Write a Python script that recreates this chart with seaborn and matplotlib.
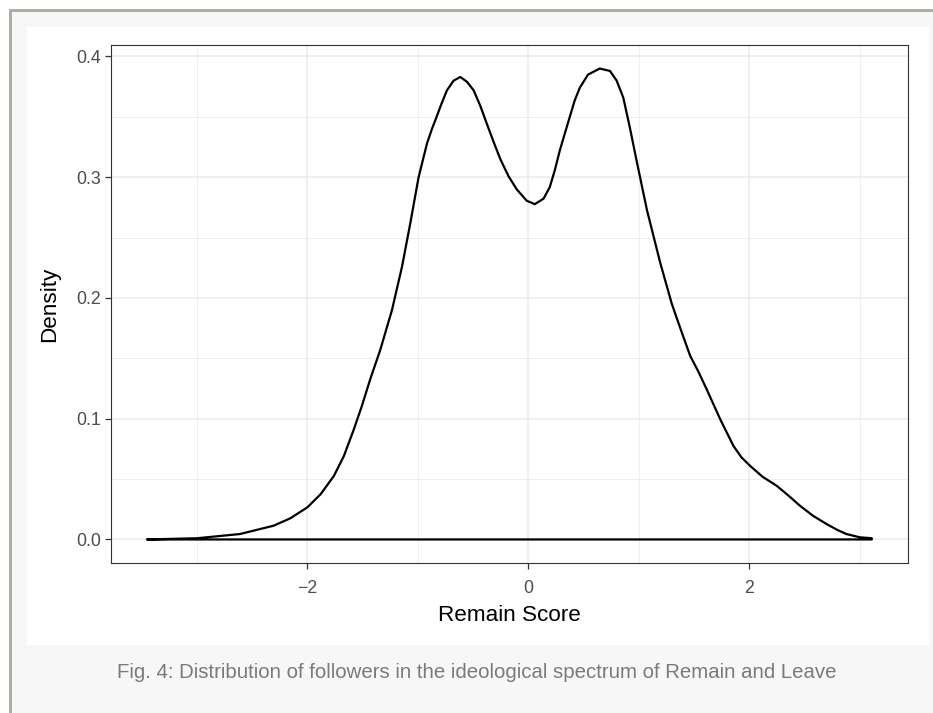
import matplotlib
matplotlib.use("Agg")
import matplotlib.pyplot as plt
import seaborn as sns
import pandas as pd
from matplotlib.patches import Rectangle
from matplotlib.ticker import MultipleLocator

# ---- data ----
remain_score = [-3.45, -3.0, -2.61, -2.305, -2.155, -2.0, -1.88, -1.76, -1.67, -1.58,
                -1.505, -1.43, -1.34, -1.234, -1.143, -1.068, -0.993, -0.917, -0.872,
                -0.826, -0.781, -0.736, -0.676, -0.615, -0.555, -0.495, -0.434,
                -0.374, -0.313, -0.253, -0.18, -0.105, -0.014, 0.059, 0.139, 0.195,
                0.24, 0.285, 0.33, 0.376, 0.42, 0.466, 0.541, 0.647, 0.74, 0.80,
                0.86, 0.92, 0.98, 1.074, 1.195, 1.30, 1.38, 1.466, 1.54, 1.617,
                1.738, 1.858, 1.93, 2.009, 2.12, 2.25, 2.36, 2.46, 2.58, 2.70, 2.80,
                2.88, 3.0, 3.11]
density = [0.0, 0.001, 0.0045, 0.0114, 0.0175, 0.0266, 0.0375, 0.0526, 0.069, 0.091,
           0.111, 0.133, 0.157, 0.190, 0.226, 0.262, 0.300, 0.328, 0.340,
           0.351, 0.362, 0.372, 0.380, 0.383, 0.379, 0.372, 0.359,
           0.344, 0.329, 0.315, 0.301, 0.290, 0.2805, 0.2777, 0.2823, 0.2919,
           0.3057, 0.322, 0.336, 0.350, 0.3635, 0.374, 0.385, 0.390, 0.388, 0.380,
           0.366, 0.341, 0.314, 0.273, 0.229, 0.195, 0.174, 0.152, 0.139, 0.124,
           0.0995, 0.0774, 0.068, 0.0609, 0.052, 0.0444, 0.036, 0.0279, 0.0195,
           0.0128, 0.0078, 0.0045, 0.0018, 0.001]
x_ticks = [-2, 0, 2]
y_ticks = [0.0, 0.1, 0.2, 0.3, 0.4]
x_label = "Remain Score"
y_label = "Density"
caption = "Fig. 4: Distribution of followers in the ideological spectrum of Remain and Leave"

# closed outline like ggplot geom_density (curve + baseline)
path_x = remain_score + [remain_score[-1], remain_score[0]]
path_y = density + [0.0, 0.0]
df = pd.DataFrame({"x": path_x, "y": path_y})

sns.set_theme(style="white")
plt.rcParams["font.family"] = ["Liberation Sans", "DejaVu Sans"]

W, H = 933, 713
fig = plt.figure(figsize=(W / 100, H / 100), dpi=100)
fig.patch.set_facecolor("white")

def px_rect(x0, y0, x1, y1, color):
    fig.patches.append(Rectangle((x0 / W, 1 - y1 / H), (x1 - x0) / W, (y1 - y0) / H,
                                 transform=fig.transFigure, facecolor=color,
                                 edgecolor="none", zorder=-10))

px_rect(9, 9, W, H, "#b5aba1")      # frame
px_rect(12, 12, W, H, "#f7f7f7")    # light grey card
px_rect(27, 27, 929, 645, "white")  # plot image

ax = fig.add_axes([111 / W, 1 - 563 / H, (908 - 111) / W, (563 - 45) / H])
ax.set_facecolor("white")

sns.lineplot(data=df, x="x", y="y", sort=False, estimator=None, color="black",
             linewidth=1.6, ax=ax, zorder=3)
ax.lines[-1].set_solid_joinstyle("round")

xmin, xmax = min(remain_score), max(remain_score)
ymin, ymax = 0.0, max(density)
ex = (xmax - xmin) * 0.05
ey = (ymax - ymin) * 0.05
ax.set_xlim(xmin - ex, xmax + ex)
ax.set_ylim(ymin - ey, ymax + ey)

ax.set_xticks(x_ticks)
ax.set_yticks(y_ticks)
ax.set_xticklabels([("\u2212" if t < 0 else "") + str(abs(t)) for t in x_ticks])
ax.set_yticklabels([f"{t:.1f}" for t in y_ticks])
ax.xaxis.set_minor_locator(MultipleLocator(1))
ax.yaxis.set_minor_locator(MultipleLocator(0.05))

ax.grid(which="major", color="#ebebeb", linewidth=1.1, zorder=0)
ax.grid(which="minor", color="#ebebeb", linewidth=0.55, zorder=0)
ax.set_axisbelow(True)

for s in ax.spines.values():
    s.set_visible(True)
    s.set_color("#333333")
    s.set_linewidth(0.8)

ax.tick_params(which="major", direction="out", length=4, width=0.9, color="#333333",
               labelsize=12.8, labelcolor="#4d4d4d", pad=3,
               bottom=True, left=True)
ax.tick_params(axis="x", which="major", pad=8)
ax.tick_params(which="minor", length=0, bottom=False, left=False)

ax.set_xlabel(x_label, fontsize=16.2, color="black", labelpad=6)
ax.set_ylabel(y_label, fontsize=16.2, color="black", labelpad=12)

fig.text(477 / W, 1 - 673 / H, caption, ha="center", va="center",
         fontsize=14.7, color="#7a7a7a")

fig.savefig("out.png", dpi=100, facecolor=fig.get_facecolor())
